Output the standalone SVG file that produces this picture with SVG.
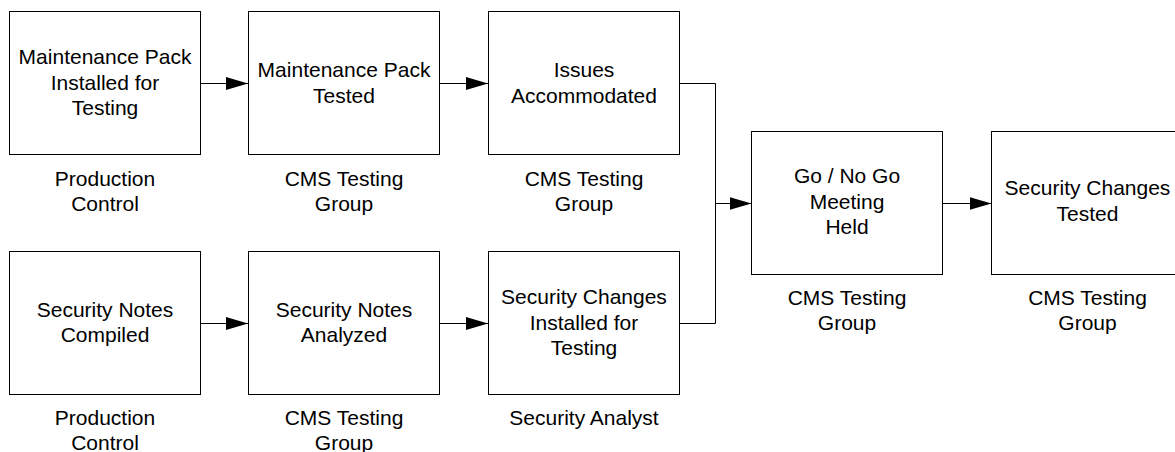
<svg xmlns="http://www.w3.org/2000/svg" width="1175" height="452" viewBox="0 0 1175 452">
<style>
.box{fill:#fff;stroke:#000;stroke-width:1}
.t{font-family:"Liberation Sans",Arial,sans-serif;font-size:21px;fill:#000;text-anchor:middle}
.c{fill:none;stroke:#000;stroke-width:1}
</style>
<defs>
<marker id="ah" markerWidth="22" markerHeight="14" refX="22" refY="7" orient="auto" markerUnits="userSpaceOnUse">
<path d="M0,0.5 L22,7 L0,13.5 Z" fill="#000"/>
</marker>
</defs>
<rect width="1175" height="452" fill="#fff"/>
<g id="connectors">
<path class="c" d="M200.5,83.5 H248" marker-end="url(#ah)"/>
<path class="c" d="M439.5,83.5 H488" marker-end="url(#ah)"/>
<path class="c" d="M200.5,323.5 H248" marker-end="url(#ah)"/>
<path class="c" d="M439.5,323.5 H488" marker-end="url(#ah)"/>
<path class="c" d="M679.5,83.5 H715.5 V323.5 H679.5"/>
<path class="c" d="M715.5,203.5 H751.5" marker-end="url(#ah)"/>
<path class="c" d="M942.5,203.5 H991.5" marker-end="url(#ah)"/>
</g>
<g id="n1">
<rect class="box" x="9.5" y="11.5" width="191" height="143"/>
<text class="t" x="105" y="64">Maintenance Pack</text>
<text class="t" x="105" y="89.5">Installed for</text>
<text class="t" x="105" y="115">Testing</text>
<text class="t" x="105" y="186">Production</text>
<text class="t" x="105" y="211">Control</text>
</g>
<g id="n2">
<rect class="box" x="248.5" y="11.5" width="191" height="143"/>
<text class="t" x="344" y="77">Maintenance Pack</text>
<text class="t" x="344" y="102.5">Tested</text>
<text class="t" x="344" y="186">CMS Testing</text>
<text class="t" x="344" y="211">Group</text>
</g>
<g id="n3">
<rect class="box" x="488.5" y="11.5" width="191" height="143"/>
<text class="t" x="584" y="77">Issues</text>
<text class="t" x="584" y="102.5">Accommodated</text>
<text class="t" x="584" y="186">CMS Testing</text>
<text class="t" x="584" y="211">Group</text>
</g>
<g id="n4">
<rect class="box" x="9.5" y="251.5" width="191" height="143"/>
<text class="t" x="105" y="317">Security Notes</text>
<text class="t" x="105" y="342">Compiled</text>
<text class="t" x="105" y="425">Production</text>
<text class="t" x="105" y="450">Control</text>
</g>
<g id="n5">
<rect class="box" x="248.5" y="251.5" width="191" height="143"/>
<text class="t" x="344" y="317">Security Notes</text>
<text class="t" x="344" y="342">Analyzed</text>
<text class="t" x="344" y="425">CMS Testing</text>
<text class="t" x="344" y="450">Group</text>
</g>
<g id="n6">
<rect class="box" x="488.5" y="251.5" width="191" height="143"/>
<text class="t" x="584" y="304">Security Changes</text>
<text class="t" x="584" y="329.5">Installed for</text>
<text class="t" x="584" y="355">Testing</text>
<text class="t" x="584" y="425">Security Analyst</text>
</g>
<g id="n7">
<rect class="box" x="751.5" y="131.5" width="191" height="143"/>
<text class="t" x="847" y="183">Go / No Go</text>
<text class="t" x="847" y="208.5">Meeting</text>
<text class="t" x="847" y="234">Held</text>
<text class="t" x="847" y="305">CMS Testing</text>
<text class="t" x="847" y="330">Group</text>
</g>
<g id="n8">
<rect class="box" x="991.5" y="131.5" width="192" height="143"/>
<text class="t" x="1087.5" y="195">Security Changes</text>
<text class="t" x="1087.5" y="221">Tested</text>
<text class="t" x="1087.5" y="305">CMS Testing</text>
<text class="t" x="1087.5" y="330">Group</text>
</g>
</svg>
